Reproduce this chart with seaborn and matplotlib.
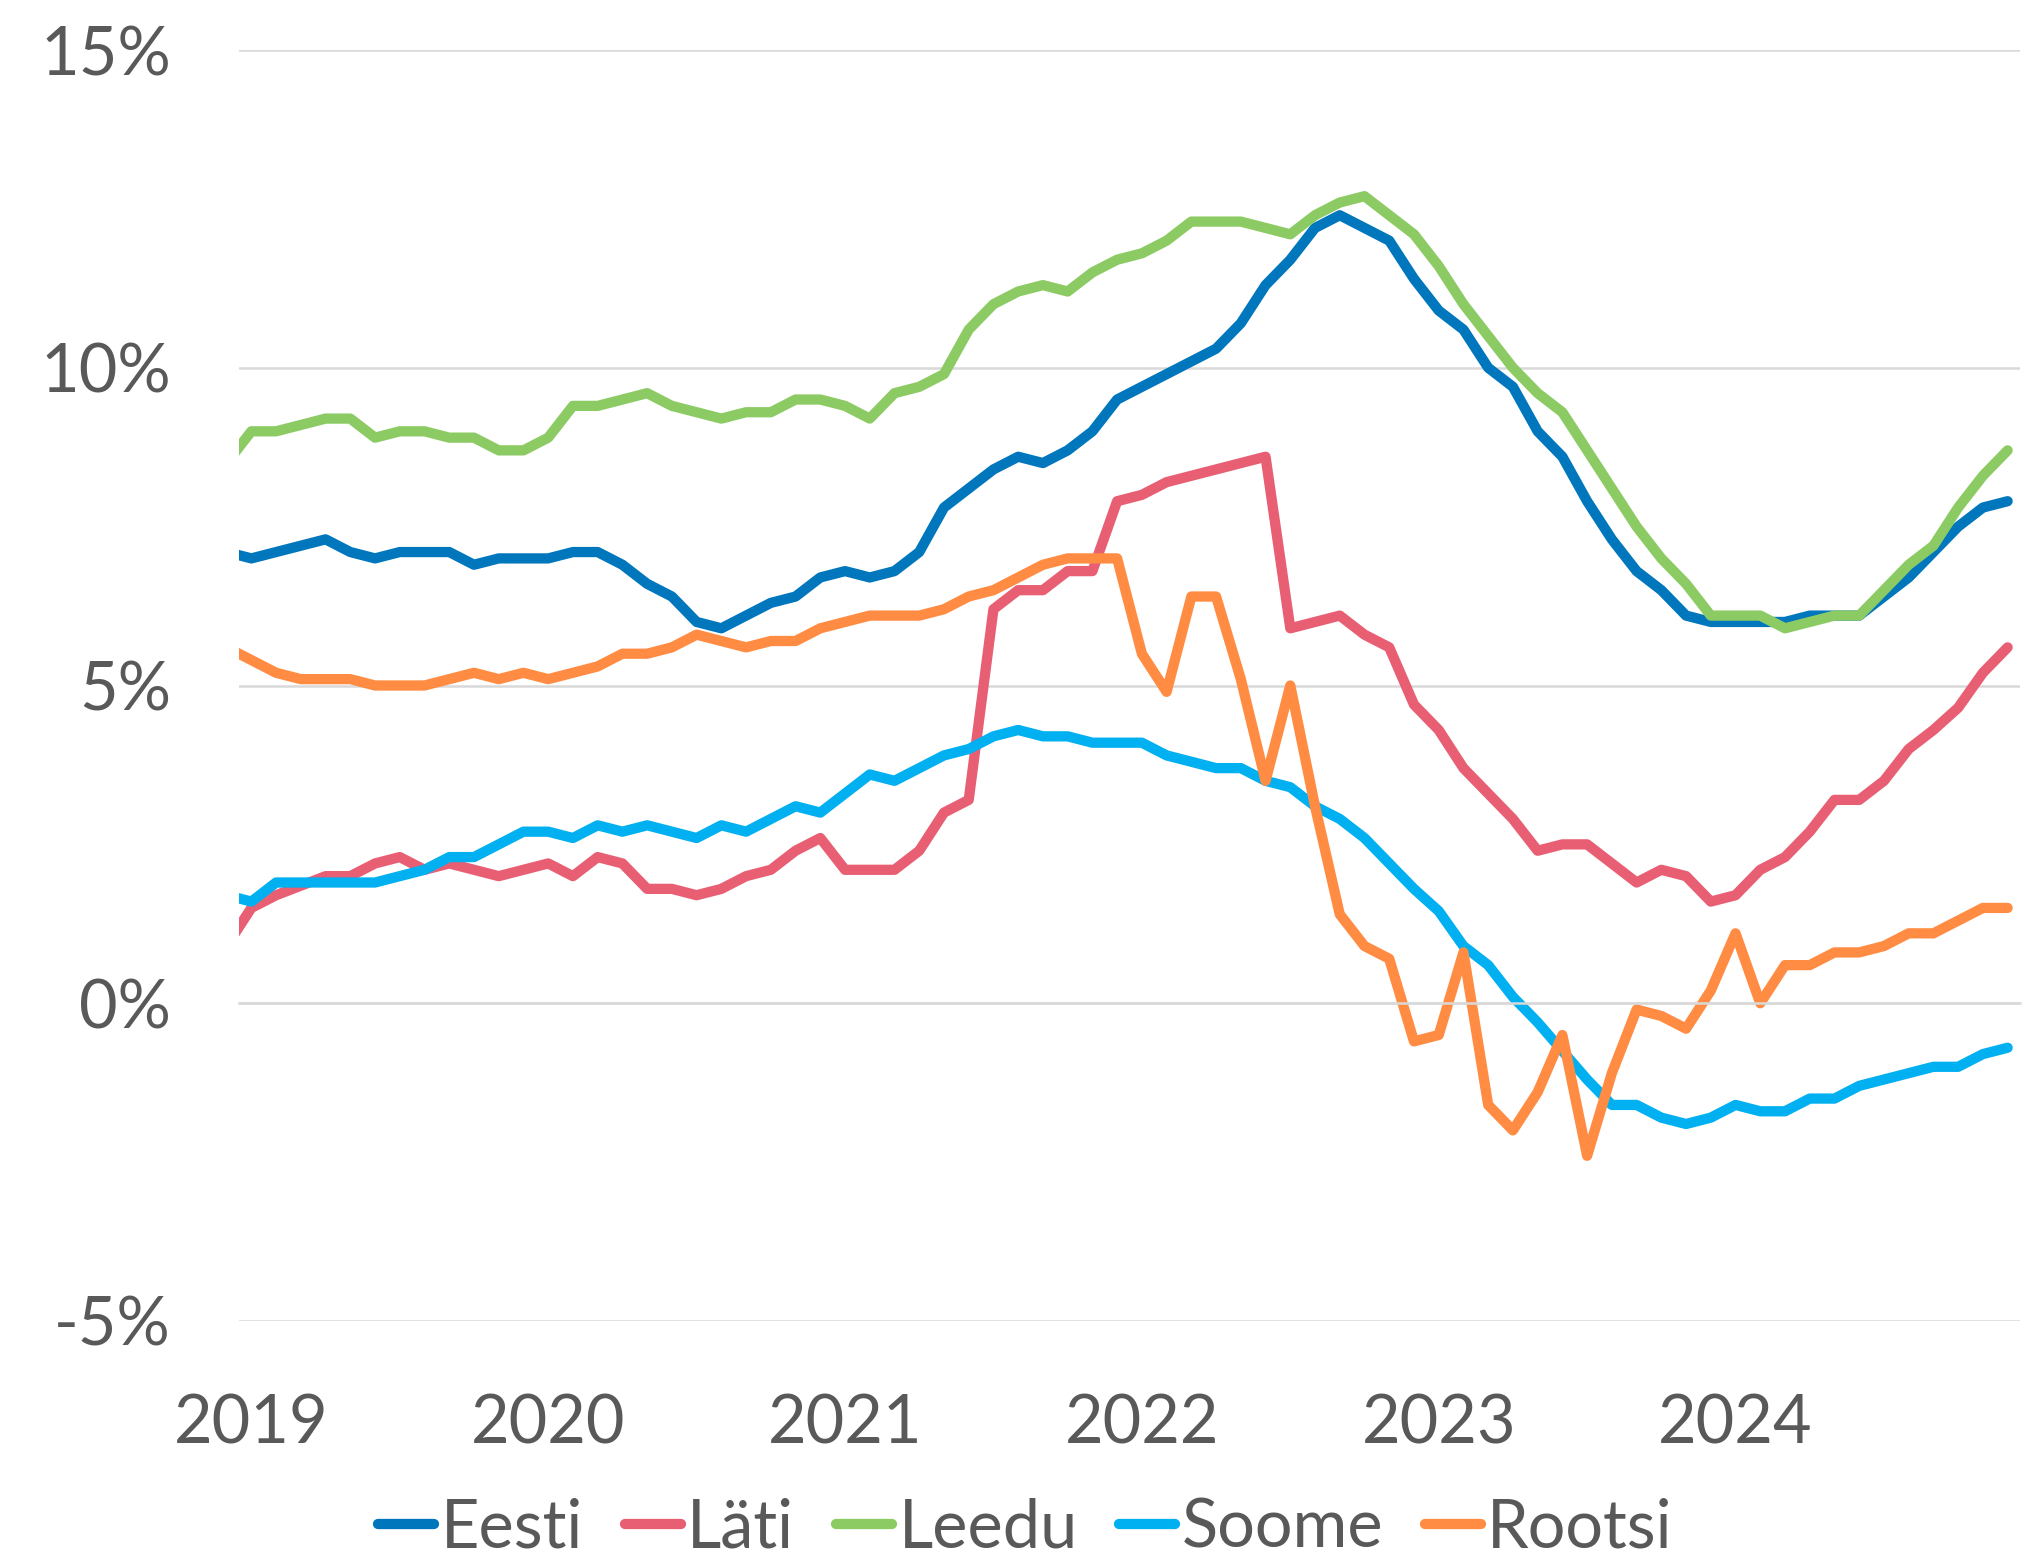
import numpy as np
import pandas as pd
import matplotlib
matplotlib.use('Agg')
import matplotlib.pyplot as plt
import seaborn as sns

# monthly values, Dec 2018 ... Dec 2024 (%)
kuud = pd.period_range('2018-12', '2024-12', freq='M')

eesti = [7.1,
         7.0, 7.1, 7.2, 7.3, 7.1, 7.0, 7.1, 7.1, 7.1, 6.9, 7.0, 7.0,
         7.0, 7.1, 7.1, 6.9, 6.6, 6.4, 6.0, 5.9, 6.1, 6.3, 6.4, 6.7,
         6.8, 6.7, 6.8, 7.1, 7.8, 8.1, 8.4, 8.6, 8.5, 8.7, 9.0, 9.5,
         9.7, 9.9, 10.1, 10.3, 10.7, 11.3, 11.7, 12.2, 12.4, 12.2, 12.0, 11.4,
         10.9, 10.6, 10.0, 9.7, 9.0, 8.6, 7.9, 7.3, 6.8, 6.5, 6.1, 6.0,
         6.0, 6.0, 6.0, 6.1, 6.1, 6.1, 6.4, 6.7, 7.1, 7.5, 7.8, 7.9]

lati = [0.9,
        1.5, 1.7, 1.85, 2.0, 2.0, 2.2, 2.3, 2.1, 2.2, 2.1, 2.0, 2.1,
        2.2, 2.0, 2.3, 2.2, 1.8, 1.8, 1.7, 1.8, 2.0, 2.1, 2.4, 2.6,
        2.1, 2.1, 2.1, 2.4, 3.0, 3.2, 6.2, 6.5, 6.5, 6.8, 6.8, 7.9,
        8.0, 8.2, 8.3, 8.4, 8.5, 8.6, 5.9, 6.0, 6.1, 5.8, 5.6, 4.7,
        4.3, 3.7, 3.3, 2.9, 2.4, 2.5, 2.5, 2.2, 1.9, 2.1, 2.0, 1.6,
        1.7, 2.1, 2.3, 2.7, 3.2, 3.2, 3.5, 4.0, 4.3, 4.65, 5.2, 5.6]

leedu = [8.5,
         9.0, 9.0, 9.1, 9.2, 9.2, 8.9, 9.0, 9.0, 8.9, 8.9, 8.7, 8.7,
         8.9, 9.4, 9.4, 9.5, 9.6, 9.4, 9.3, 9.2, 9.3, 9.3, 9.5, 9.5,
         9.4, 9.2, 9.6, 9.7, 9.9, 10.6, 11.0, 11.2, 11.3, 11.2, 11.5, 11.7,
         11.8, 12.0, 12.3, 12.3, 12.3, 12.2, 12.1, 12.4, 12.6, 12.7, 12.4, 12.1,
         11.6, 11.0, 10.5, 10.0, 9.6, 9.3, 8.7, 8.1, 7.5, 7.0, 6.6, 6.1,
         6.1, 6.1, 5.9, 6.0, 6.1, 6.1, 6.5, 6.9, 7.2, 7.8, 8.3, 8.7]

soome = [1.7,
         1.6, 1.9, 1.9, 1.9, 1.9, 1.9, 2.0, 2.1, 2.3, 2.3, 2.5, 2.7,
         2.7, 2.6, 2.8, 2.7, 2.8, 2.7, 2.6, 2.8, 2.7, 2.9, 3.1, 3.0,
         3.3, 3.6, 3.5, 3.7, 3.9, 4.0, 4.2, 4.3, 4.2, 4.2, 4.1, 4.1,
         4.1, 3.9, 3.8, 3.7, 3.7, 3.5, 3.4, 3.1, 2.9, 2.6, 2.2, 1.8,
         1.45, 0.9, 0.6, 0.1, -0.3, -0.75, -1.2, -1.6, -1.6, -1.8, -1.9, -1.8,
         -1.6, -1.7, -1.7, -1.5, -1.5, -1.3, -1.2, -1.1, -1.0, -1.0, -0.8, -0.7]

rootsi = [5.6,
          5.4, 5.2, 5.1, 5.1, 5.1, 5.0, 5.0, 5.0, 5.1, 5.2, 5.1, 5.2,
          5.1, 5.2, 5.3, 5.5, 5.5, 5.6, 5.8, 5.7, 5.6, 5.7, 5.7, 5.9,
          6.0, 6.1, 6.1, 6.1, 6.2, 6.4, 6.5, 6.7, 6.9, 7.0, 7.0, 7.0,
          5.5, 4.9, 6.4, 6.4, 5.1, 3.5, 5.0, 3.1, 1.4, 0.9, 0.7, -0.6,
          -0.5, 0.8, -1.6, -2.0, -1.4, -0.5, -2.4, -1.1, -0.1, -0.2, -0.4, 0.2,
          1.1, 0.0, 0.6, 0.6, 0.8, 0.8, 0.9, 1.1, 1.1, 1.3, 1.5, 1.5]

riigid = ['Eesti', 'Läti', 'Leedu', 'Soome', 'Rootsi']
varvid = ['#0077BD', '#E85F73', '#8CCB63', '#00B0F0', '#FF8C42']
aastad = ['2019', '2020', '2021', '2022', '2023', '2024']
y_ticks = [-5, 0, 5, 10, 15]

# month position on the axis: mid-month, Jan 2019 = 0.5
kuu_nr = (kuud.year - 2019) * 12 + kuud.month - 1 + 0.5

df = pd.DataFrame({'x': kuu_nr, 'Eesti': eesti, 'Läti': lati, 'Leedu': leedu,
                   'Soome': soome, 'Rootsi': rootsi})
df = df.melt(id_vars='x', var_name='riik', value_name='v')

sns.set_theme(style='white')
plt.rcParams['font.family'] = ['Lato', 'DejaVu Sans']
hall = '#595959'
grid = '#D9D9D9'
fs = 48

W, H = 2023, 1561
fig = plt.figure(figsize=(W / 100, H / 100), dpi=100)
ax = fig.add_axes([239 / W, 1 - 1321 / H, (2020 - 239) / W, (1321 - 50) / H])

sns.lineplot(data=df, x='x', y='v', hue='riik', hue_order=riigid,
             palette=dict(zip(riigid, varvid)), linewidth=7.4, ax=ax,
             errorbar=None)
for ln in ax.lines:
    ln.set_solid_capstyle('round')
    ln.set_solid_joinstyle('round')

ax.set_xlim(0, 72)
ax.set_ylim(-5, 15)
ax.set_xlabel('')
ax.set_ylabel('')

# y axis
ax.set_yticks(y_ticks)
ax.set_yticklabels(['%d%%' % t for t in y_ticks])
ax.yaxis.grid(True, color=grid, linewidth=1.8)
ax.set_axisbelow(True)
ax.tick_params(axis='y', length=0, pad=49, labelsize=fs, labelcolor=hall)

# x axis sits on 0 %
for s in ['top', 'right', 'left']:
    ax.spines[s].set_visible(False)
ax.spines['bottom'].set_position(('data', 0))
ax.spines['bottom'].set_color(grid)
ax.spines['bottom'].set_linewidth(1.8)
ax.set_xticks(np.arange(0, 73, 12))
ax.set_xticklabels([])
ax.set_xticks(np.arange(6) * 12 + 0.5, minor=True)
ax.set_xticklabels(aastad, minor=True)
ax.tick_params(axis='x', which='major', direction='out', length=13,
               width=1.3, color=grid)
ax.tick_params(axis='x', which='minor', length=0, pad=281,
               labelsize=fs, labelcolor=hall)

handles, labels = ax.get_legend_handles_labels()
ax.get_legend().remove()
leg = fig.legend(handles, labels, ncol=5, loc='center',
                 bbox_to_anchor=(0.507, 0.021), frameon=False, fontsize=48,
                 handlelength=0.84, handletextpad=0.1, columnspacing=0.62,
                 borderpad=0.1)
for t in leg.get_texts():
    t.set_color(hall)

fig.savefig('out.png', dpi=100, facecolor='white')
